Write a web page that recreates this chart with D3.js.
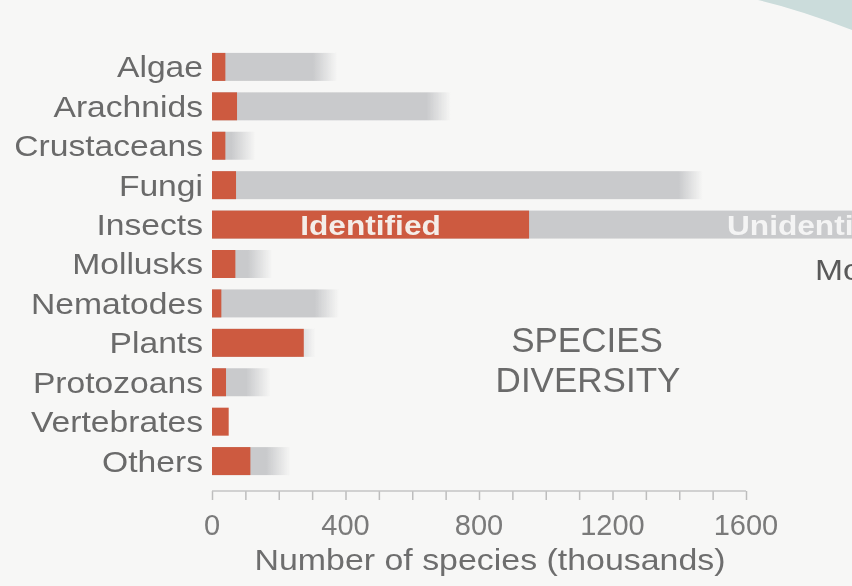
<!DOCTYPE html>
<html>
<head>
<meta charset="utf-8">
<script src="https://cdn.jsdelivr.net/npm/d3@7"></script>
<style>
  body { margin: 0; background: #f7f7f6; }
  svg { display: block; }
  text { font-family: "Liberation Sans", Arial, sans-serif; }
</style>
</head>
<body>
<div id="chart"></div>
<script>
// species counts, thousands
var categories = ['Algae', 'Arachnids', 'Crustaceans', 'Fungi', 'Insects', 'Mollusks',
                  'Nematodes', 'Plants', 'Protozoans', 'Vertebrates', 'Others'];
var identified = [40, 75, 40, 72, 950, 70, 28, 275, 42, 50, 115];
var total      = [375, 715, 130, 1470, 2000, 180, 380, 310, 175, 50, 235];
var tickValues = [0, 400, 800, 1200, 1600];

var width = 852, height = 586;

var svg = d3.select('#chart').append('svg')
    .attr('width', width)
    .attr('height', height);

var defs = svg.append('defs');
defs.append('filter').attr('id', 'soft')
  .append('feGaussianBlur').attr('stdDeviation', 0.7);

svg.append('rect')
    .attr('width', width).attr('height', height)
    .attr('fill', '#f7f7f6');

// teal corner shape top right
svg.append('path')
    .attr('d', 'M758,0 Q800,10 852,30 L852,0 Z')
    .attr('fill', '#cbdcdb')
    .attr('filter', 'url(#soft)');

var g = svg.append('g').attr('filter', 'url(#soft)');

//scales
var x = d3.scaleLinear().domain([0, 1600]).range([212, 746]);
var y = d3.scaleBand().domain(categories).range([47, 481]).paddingInner(0.29).paddingOuter(0.15);

//text with the slightly wide lettering of the original
function wideText(parent, tx, ty, sx) {
	return parent.append('text')
		.attr('transform', 'translate(' + tx + ',' + ty + ') scale(' + sx + ',1)');
}

//gray bars (total), fading out at the end
categories.forEach(function(c, i){
	if (total[i] <= identified[i]) return;
	var x1 = x(total[i]);
	var grad = defs.append('linearGradient')
		.attr('id', 'fade' + i)
		.attr('gradientUnits', 'userSpaceOnUse')
		.attr('x1', x1 - 24).attr('x2', x1)
		.attr('y1', 0).attr('y2', 0);
	grad.append('stop').attr('offset', 0).attr('stop-color', '#c9cacc');
	grad.append('stop').attr('offset', 1).attr('stop-color', '#c9cacc').attr('stop-opacity', 0);
});

g.selectAll('.total')
	.data(categories)
  .enter().append('rect')
	.attr('class', 'total')
	.attr('x', x(0))
	.attr('y', function(d){ return y(d); })
	.attr('width', function(d, i){ return Math.max(0, x(total[i]) - x(0)); })
	.attr('height', y.bandwidth())
	.attr('fill', function(d, i){ return 'url(#fade' + i + ')'; });

g.selectAll('.ident')
	.data(categories)
  .enter().append('rect')
	.attr('class', 'ident')
	.attr('x', x(0))
	.attr('y', function(d){ return y(d); })
	.attr('width', function(d, i){ return x(identified[i]) - x(0); })
	.attr('height', y.bandwidth())
	.attr('fill', '#cd5a40');

//category labels
categories.forEach(function(c){
	wideText(g, 203, y(c) + y.bandwidth() / 2, 1.16)
		.attr('dy', '0.36em')
		.attr('text-anchor', 'end')
		.attr('font-size', 29)
		.attr('fill', '#6a6a6a')
		.text(c);
});

//labels inside the insects bar
var insY = y('Insects') + y.bandwidth() / 2;
wideText(g, (x(0) + x(identified[4])) / 2, insY, 1.13)
	.attr('dy', '0.36em')
	.attr('text-anchor', 'middle')
	.attr('font-size', 28).attr('font-weight', 'bold')
	.attr('fill', '#f4ede8')
	.text('Identified');
wideText(g, 727, insY, 1.13)
	.attr('dy', '0.36em')
	.attr('font-size', 28).attr('font-weight', 'bold')
	.attr('fill', '#f4f4f4')
	.text('Unidentified');
wideText(g, 815, y('Mollusks') + y.bandwidth() / 2, 1.16)
	.attr('dy', '0.55em')
	.attr('font-size', 29)
	.attr('fill', '#5a5a5a')
	.text('More');

//title
g.append('text')
	.attr('x', 587).attr('y', 352)
	.attr('text-anchor', 'middle')
	.attr('font-size', 35).attr('fill', '#6a6a6a')
	.text('SPECIES');
g.append('text')
	.attr('x', 588).attr('y', 392)
	.attr('text-anchor', 'middle')
	.attr('font-size', 35).attr('fill', '#6a6a6a')
	.text('DIVERSITY');

//x axis
var axisY = 491;
var axis = g.append('g').attr('transform', 'translate(0,' + axisY + ')');
axis.call(d3.axisBottom(x).tickValues(d3.range(0, 1601, 100)).tickSize(9).tickFormat(''))
	.call(function(s){ s.select('.domain').remove(); });
axis.selectAll('.tick line').attr('stroke', '#bdbdbd').attr('stroke-width', 1.5);
axis.append('line')
	.attr('x1', x(0)).attr('x2', x(1600))
	.attr('stroke', '#c4c4c4').attr('stroke-width', 1.5);

g.selectAll('.tlabel')
	.data(tickValues)
  .enter().append('text')
	.attr('class', 'tlabel')
	.attr('x', function(d){ return x(d); })
	.attr('y', 535)
	.attr('text-anchor', 'middle')
	.attr('font-size', 29)
	.attr('fill', '#7a7a7a')
	.text(function(d){ return d; });

wideText(g, 490, 570, 1.13)
	.attr('text-anchor', 'middle')
	.attr('font-size', 30)
	.attr('fill', '#6e6e6e')
	.text('Number of species (thousands)');
</script>
</body>
</html>
